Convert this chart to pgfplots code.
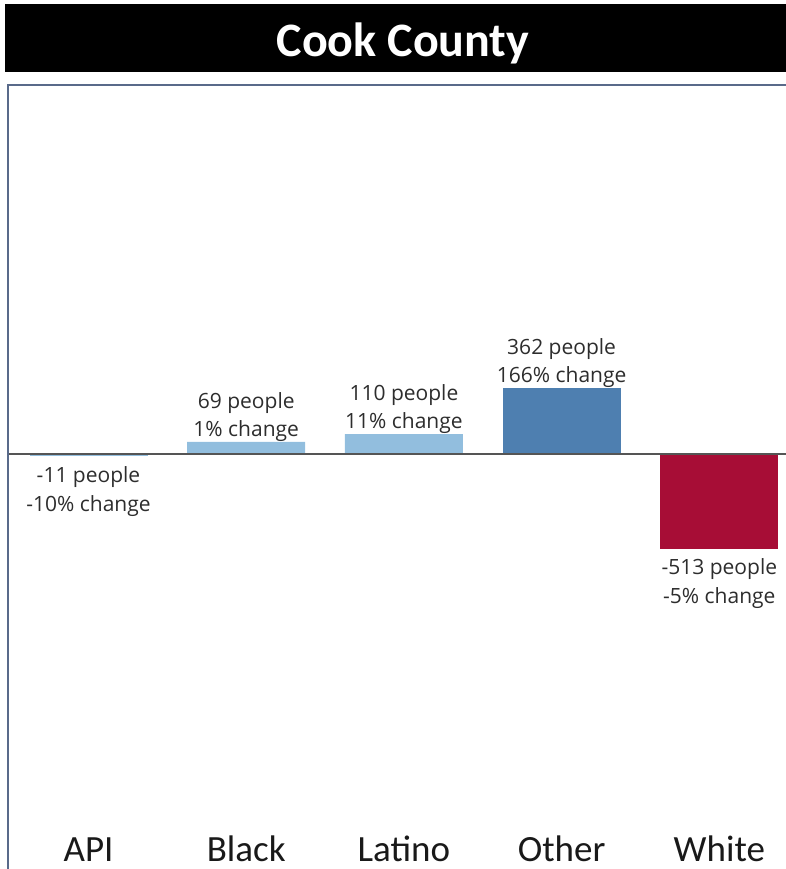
\documentclass[border=0pt]{standalone}
\usepackage{fontspec}
\setmainfont{Carlito}
\newfontfamily\lblfont{Open Sans}
\usepackage{pgfplots}
\pgfplotsset{compat=1.18}

\definecolor{barlight}{RGB}{146,190,222}
\definecolor{barmid}{RGB}{78,127,176}
\definecolor{barred}{RGB}{167,13,54}
\definecolor{framecol}{RGB}{89,106,138}
\definecolor{lbltext}{RGB}{45,45,45}
\definecolor{zerocol}{RGB}{85,85,85}

\pgfplotsset{
  chgbar/.style={
    ybar, bar width=118pt, bar shift=0pt, draw=none,
    nodes near coords={\ppl{} people\\\pct\% change},
    visualization depends on=value \thisrow{ppl}\as\ppl,
    visualization depends on=value \thisrow{pct}\as\pct,
    every node near coord/.append style={inner sep=0pt, align=center,
      font=\lblfont\fontsize{21}{28.5}\selectfont, text=lbltext},
  },
  neglbl/.style={every node near coord/.append style={yshift=-10pt}},
}

\begin{document}
\begin{tikzpicture}
\useasboundingbox (-8pt,0pt) rectangle (778pt,869pt);
\begin{axis}[
  at={(0,0)}, anchor=south west,
  scale only axis, width=778pt, height=784pt,
  xmin=-0.5105, xmax=4.4229,
  ymin=-2253, ymax=2008,
  axis line style={draw=none},
  ytick=\empty,
  xtick={0,1,2,3,4},
  xticklabels={API,Black,Latino,Other,White},
  major tick length=0pt,
  xticklabel style={anchor=base, yshift=7pt, inner sep=0pt,
    font=\fontsize{37}{40}\selectfont, text={black!90}},
  clip=false,
]
  % light blue: API, Black, Latino
  \addplot[chgbar, fill=barlight] table[x=x, y=y] {
    x y   ppl pct
    1 69  69  1
    2 110 110 11
  };
  \addplot[chgbar, neglbl, fill=barlight] table[x=x, y=y] {
    x y   ppl pct
    0 -11 -11 -10
  };
  % mid blue: Other
  \addplot[chgbar, fill=barmid] table[x=x, y=y] {
    x y   ppl pct
    3 362 362 166
  };
  % red: White
  \addplot[chgbar, neglbl, fill=barred] table[x=x, y=y] {
    x y    ppl  pct
    4 -513 -513 -5
  };
  % zero line
  \addplot[zerocol, line width=2pt, no marks] coordinates {(-0.5105,0) (4.4229,0)};
  % frame, left and top only
  \draw[framecol, line width=2pt] (rel axis cs:0,0) -- (rel axis cs:0,1) -- (rel axis cs:1,1);
\end{axis}
% title bar
\fill[black] (-3pt,797pt) rectangle (778pt,865pt);
\node[text=white, anchor=base, inner sep=0pt, font=\bfseries\fontsize{48}{52}\selectfont]
  at (395pt,812pt) {Cook County};
\end{tikzpicture}
\end{document}
